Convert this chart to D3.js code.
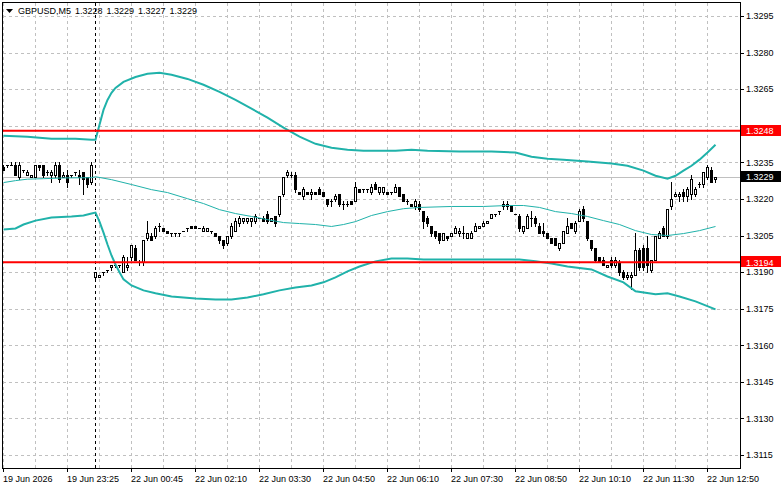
<!DOCTYPE html>
<html><head><meta charset="utf-8">
<script src="https://cdnjs.cloudflare.com/ajax/libs/d3/7.8.5/d3.min.js"></script>
<style>
body{margin:0;background:#fff}
svg{display:block}
text{font-family:"Liberation Sans",Arial,sans-serif;font-size:9px}
</style>
</head><body>
<svg id="c" width="781" height="489"></svg>
<script>
const symbolTitle = "GBPUSD,M5";
const titleValues = ["1.3228", "1.3229", "1.3227", "1.3229"];
const timeTickIndex = [0, 16, 32, 48, 64, 80, 96, 112, 128, 144, 160, 176];
const timeTickLabels = ["19 Jun 2026", "19 Jun 23:25", "22 Jun 00:45", "22 Jun 02:10", "22 Jun 03:30", "22 Jun 04:50",
  "22 Jun 06:10", "22 Jun 07:30", "22 Jun 08:50", "22 Jun 10:10", "22 Jun 11:30", "22 Jun 12:50"];
const priceTicks = [1.3115, 1.3130, 1.3145, 1.3160, 1.3175, 1.3190, 1.3205, 1.3220, 1.3235, 1.3250, 1.3265, 1.3280, 1.3295];
const separatorIndex = 23;
const levelLines = [1.3248, 1.3194];
const bidPrice = 1.3229;

// [open, high, low, close] per M5 bar
const ohlc = [
[1.3233,1.3234,1.3232,1.3232],[1.3234,1.3234,1.3233,1.3234],[1.3234,1.3235,1.3234,1.3234],[1.3234,1.3235,1.3230,1.3230],
[1.3229,1.3235,1.3228,1.3234],[1.3232,1.3232,1.3231,1.3232],[1.3230,1.3232,1.3230,1.3231],[1.3229,1.3230,1.3229,1.3230],
[1.3229,1.3234,1.3229,1.3234],[1.3234,1.3234,1.3232,1.3233],[1.3234,1.3234,1.3229,1.3230],[1.3231,1.3232,1.3230,1.3231],
[1.3230,1.3232,1.3227,1.3231],[1.3230,1.3235,1.3229,1.3234],[1.3234,1.3235,1.3227,1.3228],[1.3229,1.3231,1.3229,1.3230],
[1.3230,1.3232,1.3225,1.3227],[1.3230,1.3230,1.3229,1.3230],[1.3231,1.3231,1.3230,1.3231],[1.3230,1.3232,1.3226,1.3229],
[1.3231,1.3231,1.3222,1.3228],[1.3229,1.3229,1.3225,1.3226],[1.3227,1.3235,1.3226,1.3234],
[1.3188,1.3190,1.3187,1.3190],[1.3188,1.3189,1.3188,1.3189],[1.3190,1.3190,1.3189,1.3190],[1.3191,1.3191,1.3190,1.3191],
[1.3192,1.3193,1.3191,1.3193],[1.3193,1.3193,1.3192,1.3193],[1.3193,1.3193,1.3192,1.3193],[1.3190,1.3197,1.3190,1.3196],
[1.3192,1.3196,1.3191,1.3193],[1.3196,1.3201,1.3195,1.3201],[1.3200,1.3201,1.3195,1.3195],[1.3194,1.3195,1.3193,1.3194],
[1.3194,1.3203,1.3193,1.3203],[1.3204,1.3211,1.3203,1.3206],[1.3205,1.3206,1.3203,1.3203],[1.3205,1.3209,1.3204,1.3208],
[1.3209,1.3210,1.3207,1.3209],[1.3208,1.3208,1.3207,1.3207],[1.3207,1.3207,1.3206,1.3206],[1.3206,1.3206,1.3205,1.3206],
[1.3206,1.3206,1.3205,1.3206],[1.3206,1.3206,1.3205,1.3206],[1.3207,1.3207,1.3207,1.3207],[1.3208,1.3208,1.3207,1.3208],
[1.3209,1.3209,1.3208,1.3208],[1.3209,1.3209,1.3208,1.3208],[1.3208,1.3208,1.3208,1.3208],[1.3207,1.3209,1.3207,1.3208],
[1.3207,1.3208,1.3207,1.3208],[1.3207,1.3207,1.3206,1.3207],[1.3206,1.3206,1.3205,1.3205],[1.3205,1.3205,1.3202,1.3203],
[1.3203,1.3203,1.3200,1.3201],[1.3202,1.3205,1.3201,1.3205],[1.3205,1.3210,1.3204,1.3209],[1.3207,1.3212,1.3207,1.3211],
[1.3210,1.3213,1.3209,1.3212],[1.3211,1.3212,1.3210,1.3212],[1.3211,1.3212,1.3210,1.3212],[1.3211,1.3212,1.3209,1.3212],
[1.3211,1.3214,1.3210,1.3213],[1.3212,1.3212,1.3212,1.3212],[1.3212,1.3213,1.3211,1.3211],[1.3214,1.3215,1.3210,1.3211],
[1.3211,1.3212,1.3211,1.3212],[1.3213,1.3213,1.3209,1.3210],[1.3214,1.3221,1.3213,1.3221],[1.3222,1.3229,1.3221,1.3229],
[1.3230,1.3232,1.3229,1.3231],[1.3230,1.3231,1.3229,1.3230],[1.3230,1.3231,1.3223,1.3224],[1.3223,1.3223,1.3222,1.3222],
[1.3221,1.3225,1.3220,1.3224],[1.3223,1.3223,1.3222,1.3222],[1.3222,1.3224,1.3220,1.3223],[1.3223,1.3223,1.3222,1.3222],
[1.3224,1.3225,1.3222,1.3222],[1.3223,1.3223,1.3221,1.3221],[1.3220,1.3220,1.3217,1.3218],[1.3219,1.3220,1.3217,1.3219],
[1.3220,1.3222,1.3219,1.3221],[1.3222,1.3222,1.3217,1.3218],[1.3218,1.3219,1.3216,1.3218],[1.3218,1.3219,1.3217,1.3218],
[1.3219,1.3219,1.3218,1.3218],[1.3219,1.3227,1.3219,1.3225],[1.3224,1.3224,1.3223,1.3223],[1.3224,1.3224,1.3223,1.3224],
[1.3224,1.3224,1.3223,1.3224],[1.3223,1.3226,1.3222,1.3225],[1.3226,1.3227,1.3224,1.3224],[1.3223,1.3225,1.3222,1.3225],
[1.3223,1.3225,1.3222,1.3225],[1.3223,1.3223,1.3222,1.3222],[1.3223,1.3223,1.3222,1.3223],[1.3223,1.3226,1.3223,1.3225],
[1.3225,1.3225,1.3221,1.3221],[1.3222,1.3222,1.3219,1.3219],[1.3219,1.3220,1.3218,1.3219],[1.3218,1.3218,1.3217,1.3217],
[1.3217,1.3220,1.3216,1.3219],[1.3218,1.3219,1.3215,1.3216],[1.3215,1.3215,1.3208,1.3211],[1.3212,1.3213,1.3209,1.3210],
[1.3209,1.3209,1.3205,1.3206],[1.3207,1.3207,1.3204,1.3205],[1.3206,1.3206,1.3202,1.3203],[1.3203,1.3206,1.3203,1.3206],
[1.3205,1.3205,1.3203,1.3204],[1.3205,1.3206,1.3205,1.3206],[1.3206,1.3209,1.3206,1.3208],[1.3206,1.3208,1.3205,1.3207],
[1.3206,1.3209,1.3204,1.3206],[1.3204,1.3206,1.3204,1.3206],[1.3204,1.3207,1.3204,1.3206],[1.3207,1.3210,1.3207,1.3209],
[1.3208,1.3209,1.3208,1.3209],[1.3209,1.3211,1.3209,1.3210],[1.3210,1.3211,1.3210,1.3211],[1.3212,1.3214,1.3212,1.3214],
[1.3214,1.3214,1.3213,1.3214],[1.3215,1.3215,1.3214,1.3215],[1.3217,1.3219,1.3216,1.3218],[1.3217,1.3219,1.3216,1.3218],
[1.3217,1.3217,1.3215,1.3215],[1.3214,1.3214,1.3214,1.3214],[1.3213,1.3214,1.3207,1.3208],[1.3207,1.3209,1.3206,1.3209],
[1.3208,1.3214,1.3208,1.3213],[1.3212,1.3215,1.3209,1.3212],[1.3212,1.3213,1.3209,1.3210],[1.3209,1.3210,1.3206,1.3206],
[1.3207,1.3210,1.3205,1.3206],[1.3206,1.3206,1.3204,1.3204],[1.3204,1.3204,1.3202,1.3202],[1.3204,1.3204,1.3201,1.3201],
[1.3200,1.3202,1.3199,1.3202],[1.3202,1.3207,1.3202,1.3207],[1.3206,1.3212,1.3206,1.3209],[1.3210,1.3210,1.3208,1.3208],
[1.3207,1.3211,1.3206,1.3210],[1.3211,1.3216,1.3211,1.3215],[1.3216,1.3217,1.3211,1.3212],[1.3211,1.3211,1.3203,1.3204],
[1.3203,1.3203,1.3199,1.3200],[1.3200,1.3200,1.3194,1.3195],[1.3196,1.3196,1.3194,1.3194],[1.3195,1.3196,1.3193,1.3193],
[1.3192,1.3193,1.3192,1.3193],[1.3195,1.3196,1.3192,1.3193],[1.3193,1.3196,1.3192,1.3195],[1.3194,1.3195,1.3189,1.3190],
[1.3190,1.3191,1.3187,1.3188],[1.3188,1.3190,1.3187,1.3189],[1.3188,1.3190,1.3183,1.3189],[1.3189,1.3206,1.3189,1.3199],
[1.3199,1.3200,1.3191,1.3192],[1.3200,1.3201,1.3191,1.3192],[1.3200,1.3205,1.3190,1.3193],[1.3191,1.3195,1.3190,1.3195],
[1.3195,1.3205,1.3195,1.3205],[1.3204,1.3207,1.3204,1.3206],[1.3208,1.3209,1.3205,1.3205],[1.3205,1.3216,1.3204,1.3216],
[1.3217,1.3227,1.3216,1.3220],[1.3221,1.3223,1.3221,1.3222],[1.3221,1.3223,1.3219,1.3222],[1.3223,1.3224,1.3219,1.3221],
[1.3221,1.3225,1.3219,1.3224],[1.3222,1.3230,1.3220,1.3228],[1.3222,1.3225,1.3221,1.3224],[1.3226,1.3227,1.3225,1.3226],
[1.3226,1.3231,1.3225,1.3231],[1.3229,1.3234,1.3228,1.3233],[1.3232,1.3233,1.3227,1.3227],[1.3228,1.3229,1.3227,1.3229]
];

// band readings: [bar index, price]
const upperBand = [[0,1.32459],[6,1.32455],[12,1.32447],[18,1.32447],[22,1.32443],[23,1.32443],[24,1.32504],[25,1.32565],
  [26,1.32606],[27,1.32635],[28,1.32655],[30,1.32680],[33,1.32700],[36,1.32713],[39,1.32717],[42,1.32709],[46,1.32692],
  [50,1.32668],[54,1.32639],[58,1.32606],[62,1.32570],[66,1.32533],[70,1.32492],[74,1.32455],[78,1.32426],[82,1.32410],
  [86,1.32402],[90,1.32398],[98,1.32398],[102,1.32402],[106,1.32398],[114,1.32394],[122,1.32394],[128,1.32390],
  [132,1.32373],[136,1.32365],[140,1.32361],[146,1.32353],[152,1.32345],[156,1.32336],[160,1.32316],[163,1.32295],
  [166,1.32283],[168,1.32295],[170,1.32316],[172,1.32336],[174,1.32361],[176,1.32390],[178,1.32422]];
const middleBand = [[0,1.32267],[3,1.32275],[6,1.32281],[10,1.32283],[15,1.32286],[22,1.32287],[23,1.32291],[27,1.32279],
  [32,1.32259],[37,1.32238],[41,1.32226],[46,1.32201],[50,1.32181],[54,1.32156],[58,1.32140],[62,1.32128],[66,1.32115],
  [70,1.32103],[74,1.32099],[78,1.32095],[82,1.32087],[85,1.32095],[88,1.32107],[92,1.32132],[96,1.32148],[100,1.32160],
  [104,1.32165],[112,1.32169],[120,1.32169],[126,1.32173],[130,1.32173],[134,1.32165],[138,1.32148],[142,1.32140],
  [146,1.32128],[150,1.32111],[154,1.32095],[158,1.32070],[162,1.32054],[166,1.32050],[170,1.32058],[174,1.32070],[178,1.32087]];
const lowerBand = [[0,1.32075],[3,1.32079],[5,1.32095],[8,1.32111],[12,1.32124],[17,1.32128],[20,1.32132],[22,1.32140],
  [23,1.32144],[24,1.32107],[25,1.32062],[26,1.32013],[27,1.31968],[28,1.31931],[29,1.31899],[30,1.31870],[32,1.31845],
  [35,1.31825],[38,1.31813],[42,1.31800],[48,1.31792],[53,1.31788],[57,1.31788],[61,1.31796],[65,1.31809],[69,1.31825],
  [73,1.31837],[77,1.31845],[80,1.31858],[83,1.31878],[86,1.31903],[89,1.31923],[93,1.31944],[97,1.31956],[101,1.31956],
  [105,1.31952],[113,1.31952],[121,1.31952],[129,1.31952],[133,1.31944],[137,1.31935],[141,1.31923],[147,1.31911],
  [151,1.31882],[155,1.31858],[158,1.31821],[163,1.31809],[166,1.31813],[169,1.31800],[173,1.31780],[178,1.31747]];

const svg = d3.select("#c");
const frameL = 2.5, frameR = 740.5, frameT = 2.5, frameB = 468.5;
const x = d3.scaleLinear().domain([0, 1]).range([3.5, 7.5]);
const y = d3.scaleLinear().domain([1.3115, 1.3295]).range([455, 16]);
const py = v => Math.round(y(v)) + 0.5;
const tagged = levelLines.concat([bidPrice]);

svg.append("rect").attr("width", 781).attr("height", 489).attr("fill", "#fff");

const grid = svg.append("g").attr("stroke", "#c0c0c0").attr("stroke-dasharray", "3,3").attr("shape-rendering", "crispEdges");
priceTicks.forEach(p => grid.append("line").attr("x1", 3).attr("x2", frameR).attr("y1", py(p)).attr("y2", py(p)));
d3.range(0, 177, 8).forEach(i => grid.append("line").attr("x1", x(i)).attr("x2", x(i)).attr("y1", frameT).attr("y2", frameB));

svg.append("line").attr("x1", x(separatorIndex)).attr("x2", x(separatorIndex)).attr("y1", frameT).attr("y2", frameB)
  .attr("stroke", "#000").attr("stroke-dasharray", "3,3").attr("shape-rendering", "crispEdges");

svg.append("line").attr("x1", 3).attr("x2", frameR).attr("y1", py(bidPrice)).attr("y2", py(bidPrice))
  .attr("stroke", "#c0c0c0").attr("shape-rendering", "crispEdges");

// candles
const cg = svg.append("g").attr("shape-rendering", "crispEdges");
ohlc.forEach((d, i) => {
  const [o, h, l, c] = d;
  const cx = x(i);
  const yh = Math.round(y(h)), yl = Math.round(y(l));
  cg.append("line").attr("x1", cx).attr("x2", cx).attr("y1", yh).attr("y2", yl + 1).attr("stroke", "#000");
  const yt = Math.round(y(Math.max(o, c))), yb = Math.round(y(Math.min(o, c)));
  if (o === c) {
    cg.append("line").attr("x1", cx - 1.5).attr("x2", cx + 1.5).attr("y1", yt + 0.5).attr("y2", yt + 0.5).attr("stroke", "#000");
  } else if (c > o) {
    cg.append("rect").attr("x", cx - 1).attr("y", yt + 0.5).attr("width", 2).attr("height", Math.max(1, yb - yt))
      .attr("fill", "#fff").attr("stroke", "#000");
  } else {
    cg.append("rect").attr("x", cx - 1.5).attr("y", yt).attr("width", 3).attr("height", Math.max(1, yb - yt + 1)).attr("fill", "#000");
  }
});

// bands
const line = d3.line().x(d => x(d[0])).y(d => y(d[1]));
[[upperBand, 2], [lowerBand, 2], [middleBand, 1]].forEach(([data, w]) => {
  svg.append("path").attr("d", line(data)).attr("fill", "none").attr("stroke", "#20b2aa").attr("stroke-width", w);
});

// horizontal level lines
levelLines.forEach(v => svg.append("line").attr("x1", 3).attr("x2", frameR).attr("y1", y(v)).attr("y2", y(v))
  .attr("stroke", "#ff0000").attr("stroke-width", 2));

// frame
svg.append("rect").attr("x", frameL).attr("y", frameT).attr("width", frameR - frameL).attr("height", frameB - frameT)
  .attr("fill", "none").attr("stroke", "#000").attr("shape-rendering", "crispEdges");

// price axis (labels hidden where a price tag covers them, as in the terminal)
const pa = svg.append("g");
priceTicks.forEach(p => {
  pa.append("line").attr("x1", frameR).attr("x2", 744).attr("y1", py(p)).attr("y2", py(p)).attr("stroke", "#000").attr("shape-rendering", "crispEdges");
  const covered = tagged.some(t => Math.abs(y(t) - y(p)) < 9);
  if (!covered) pa.append("text").attr("x", 746).attr("y", y(p) + 3.3).attr("fill", "#000").text(p.toFixed(4));
});

// time axis
timeTickIndex.forEach((i, k) => {
  svg.append("line").attr("x1", x(i)).attr("x2", x(i)).attr("y1", frameB).attr("y2", 472).attr("stroke", "#000").attr("shape-rendering", "crispEdges");
  svg.append("text").attr("x", x(i) - 0.5).attr("y", 481.5).attr("fill", "#000").text(timeTickLabels[k]);
});

// price tags
function tag(v, fill) {
  const yy = y(v);
  svg.append("rect").attr("x", 741).attr("y", Math.round(yy) - 6).attr("width", 40).attr("height", 11).attr("fill", fill);
  svg.append("text").attr("x", 746).attr("y", yy + 3.3).attr("fill", "#fff").text(v.toFixed(4));
}
levelLines.forEach(v => tag(v, "#ff0000"));
tag(bidPrice, "#000");

// title
svg.append("path").attr("d", "M6,9L13,9L9.5,13Z").attr("fill", "#000");
svg.append("text").attr("x", 18).attr("y", 13.5).attr("fill", "#000").attr("word-spacing", "1.5px")
  .text(symbolTitle + "  " + titleValues.join(" "));
</script>
</body></html>
